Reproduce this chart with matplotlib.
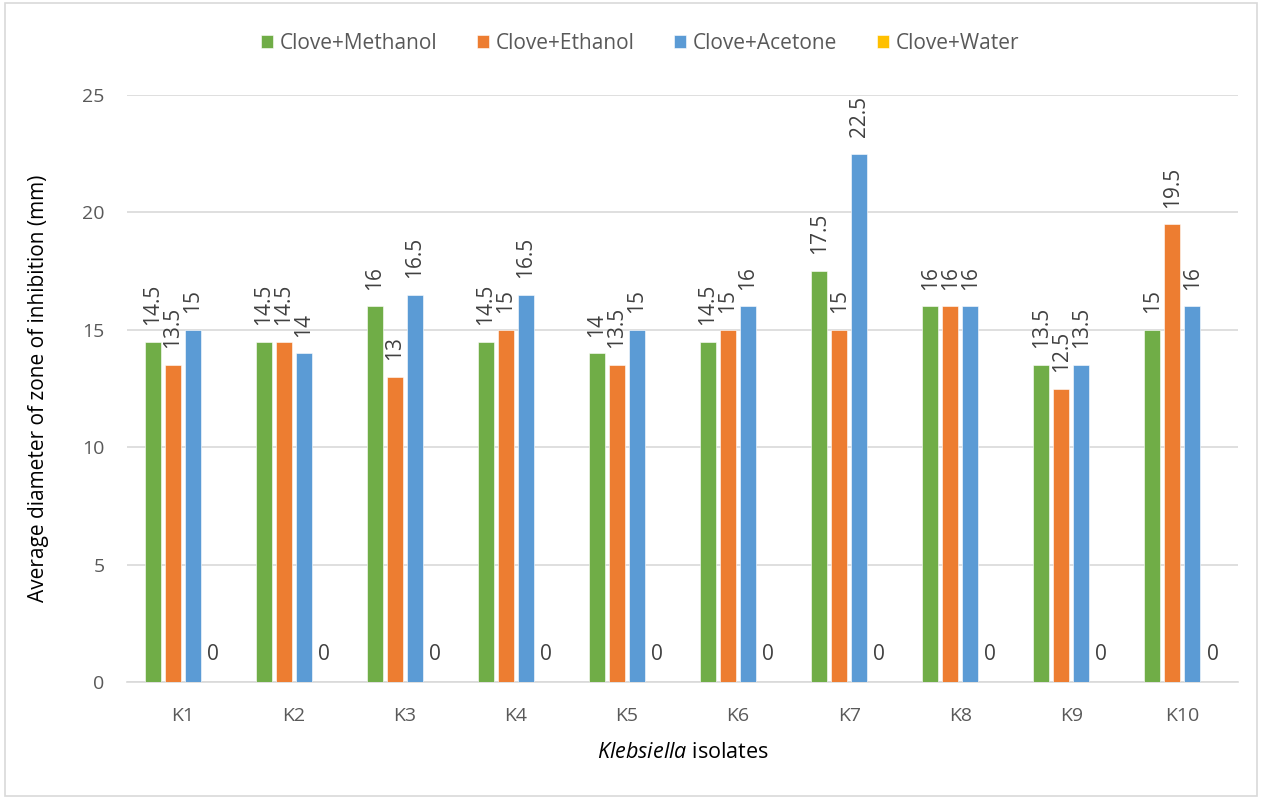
import numpy as np
import matplotlib.pyplot as plt
from matplotlib.patches import Rectangle

isolates = ['K1', 'K2', 'K3', 'K4', 'K5', 'K6', 'K7', 'K8', 'K9', 'K10']
methanol = [14.5, 14.5, 16, 14.5, 14, 14.5, 17.5, 16, 13.5, 15]
ethanol = [13.5, 14.5, 13, 15, 13.5, 15, 15, 16, 12.5, 19.5]
acetone = [15, 14, 16.5, 16.5, 15, 16, 22.5, 16, 13.5, 16]
water = [0, 0, 0, 0, 0, 0, 0, 0, 0, 0]

series = [
    ('Clove+Methanol', methanol, '#70AD47'),
    ('Clove+Ethanol', ethanol, '#ED7D31'),
    ('Clove+Acetone', acetone, '#5B9BD5'),
    ('Clove+Water', water, '#FFC000'),
]

text_color = '#595959'
plt.rcParams['font.family'] = ['Open Sans', 'DejaVu Sans']
plt.rcParams['mathtext.fontset'] = 'custom'
plt.rcParams['mathtext.rm'] = 'Open Sans'
plt.rcParams['mathtext.it'] = 'Open Sans:italic'

fig = plt.figure(figsize=(12.62, 7.99), dpi=100)
ax = fig.add_axes([0.1006, 0.1464, 0.8804, 0.7346])

x = np.arange(len(isolates))
width = 0.144
offsets = [-0.27, -0.09, 0.09, 0.27]

for (name, vals, color), off in zip(series, offsets):
    bars = ax.bar(x + off, vals, width, color=color, label=name,
                  edgecolor='white', linewidth=0.4, zorder=3)
    for b, v in zip(bars, vals):
        rot = 0 if v == 0 else 90
        ax.annotate(f'{v:g}', (b.get_x() + b.get_width() / 2, v),
                    xytext=(0, 12), textcoords='offset points',
                    ha='center', va='bottom', rotation=rot,
                    fontsize=15, color='#404040')

ax.set_xlim(-0.5, 9.5)
ax.set_ylim(0, 25)
ax.set_yticks([0, 5, 10, 15, 20, 25])
ax.set_xticks(x)
ax.set_xticklabels(isolates)
ax.tick_params(axis='both', length=0, colors=text_color, labelsize=14)
ax.tick_params(axis='x', pad=18)
ax.tick_params(axis='y', pad=16)
ax.grid(axis='y', color='#d9d9d9', linewidth=1.2, zorder=0)
for s in ['top', 'right', 'left']:
    ax.spines[s].set_visible(False)
ax.spines['bottom'].set_color('#d9d9d9')
ax.spines['bottom'].set_linewidth(1.2)

ax.set_ylabel('Average diameter of zone of inhibition (mm)',
              fontsize=15, color='black', labelpad=24)
ax.set_xlabel(r'$\it{Klebsiella}$ isolates', fontsize=15.5,
              color='black', labelpad=12)

fig.legend(loc='center', bbox_to_anchor=(0.507, 0.946), ncol=4,
           frameon=False, fontsize=15, handlelength=0.6, handleheight=0.6,
           handletextpad=0.3, columnspacing=1.9, labelcolor=text_color)

fig.patches.append(Rectangle((0.004, 0.004), 0.992, 0.992,
                             transform=fig.transFigure, fill=False,
                             edgecolor='#d9d9d9', linewidth=1.2))

fig.savefig('out.png', dpi=100)
